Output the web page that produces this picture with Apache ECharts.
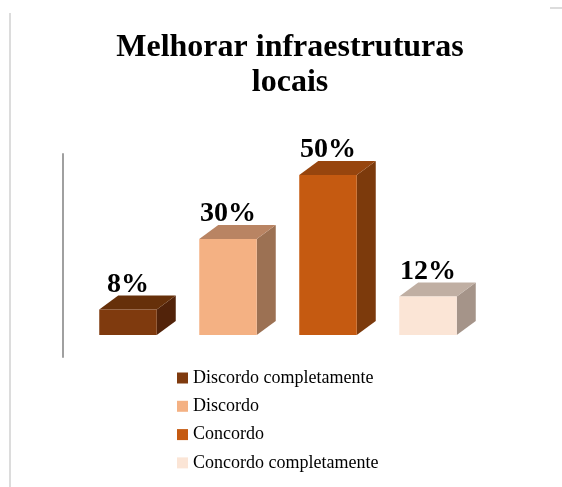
<!DOCTYPE html>
<html>
<head>
<meta charset="utf-8">
<script src="https://cdn.jsdelivr.net/npm/echarts@6/dist/echarts.min.js"></script>
<style>
html,body{margin:0;padding:0;background:#fff;}
#chart{width:562px;height:487px;}
</style>
</head>
<body>
<div id="chart"></div>
<script>
const categories = ['Discordo completamente', 'Discordo', 'Concordo', 'Concordo completamente'];
const values = [8, 30, 50, 12];
const titleText = 'Melhorar infraestruturas\nlocais';

const frontColors = ['#7F3A0E', '#F4B183', '#C55A11', '#FBE5D6'];
const topColors   = ['#66300A', '#B98463', '#97450E', '#C0AFA3'];
const sideColors  = ['#52230A', '#9C7153', '#7C3A0C', '#A59489'];
const DX = 19, DY = 14;

const chart = echarts.init(document.getElementById('chart'));

function render3D(params, api) {
  const i = api.value(0);
  const v = api.value(1);
  const base = api.coord([i, 0]);
  const top = api.coord([i, v]);
  const bw = api.size([1, 0])[0] * 0.575;
  const x0 = base[0] - bw / 2, x1 = base[0] + bw / 2;
  const yb = base[1], yt = top[1];
  return {
    type: 'group',
    children: [
      { type: 'polygon', shape: { points: [[x1, yt], [x1 + DX, yt - DY], [x1 + DX, yb - DY], [x1, yb]] },
        style: { fill: sideColors[i] } },
      { type: 'polygon', shape: { points: [[x0, yt], [x0 + DX, yt - DY], [x1 + DX, yt - DY], [x1, yt]] },
        style: { fill: topColors[i] } },
      { type: 'rect', shape: { x: x0, y: yt, width: bw, height: yb - yt },
        style: { fill: frontColors[i] } },
      { type: 'text', x: base[0], y: yt - DY + 3,
        style: { text: v + '%', fill: '#000', font: 'bold 28px "Liberation Serif"',
                 textAlign: 'center', textVerticalAlign: 'bottom' } }
    ]
  };
}

const series = categories.map((name, i) => ({
  name: name,
  type: 'custom',
  renderItem: render3D,
  itemStyle: { color: frontColors[i] },
  encode: { x: 0, y: 1 },
  data: [[i, values[i]]]
}));

chart.setOption({
  animation: false,
  backgroundColor: '#fff',
  title: {
    text: titleText,
    left: 285,
    textAlign: 'center',
    top: 25,
    textStyle: { fontFamily: 'Liberation Serif', fontWeight: 'bold', fontSize: 32, lineHeight: 35, color: '#000' }
  },
  legend: {
    orient: 'vertical',
    left: 177,
    top: 369,
    icon: 'rect',
    itemWidth: 11,
    itemHeight: 11,
    itemGap: 10.3,
    padding: 0,
    data: categories,
    textStyle: { fontFamily: 'Liberation Serif', fontSize: 18, color: '#000' }
  },
  grid: { left: 78, right: 84, top: 154, bottom: 130 },
  xAxis: {
    type: 'category', data: categories, show: false
  },
  yAxis: {
    type: 'value', min: -6.875, max: 56.5625, offset: 15,
    axisLine: { show: true, lineStyle: { color: '#A0A0A0', width: 2 } },
    axisTick: { show: false }, axisLabel: { show: false }, splitLine: { show: false }
  },
  graphic: [
    { type: 'line', shape: { x1: 10, y1: 13, x2: 10, y2: 487 }, style: { stroke: '#DCDCDC', lineWidth: 2 } },
    { type: 'line', shape: { x1: 550, y1: 8, x2: 562, y2: 8 }, style: { stroke: '#DCDCDC', lineWidth: 2 } }
  ],
  series: series
});
</script>
</body>
</html>
